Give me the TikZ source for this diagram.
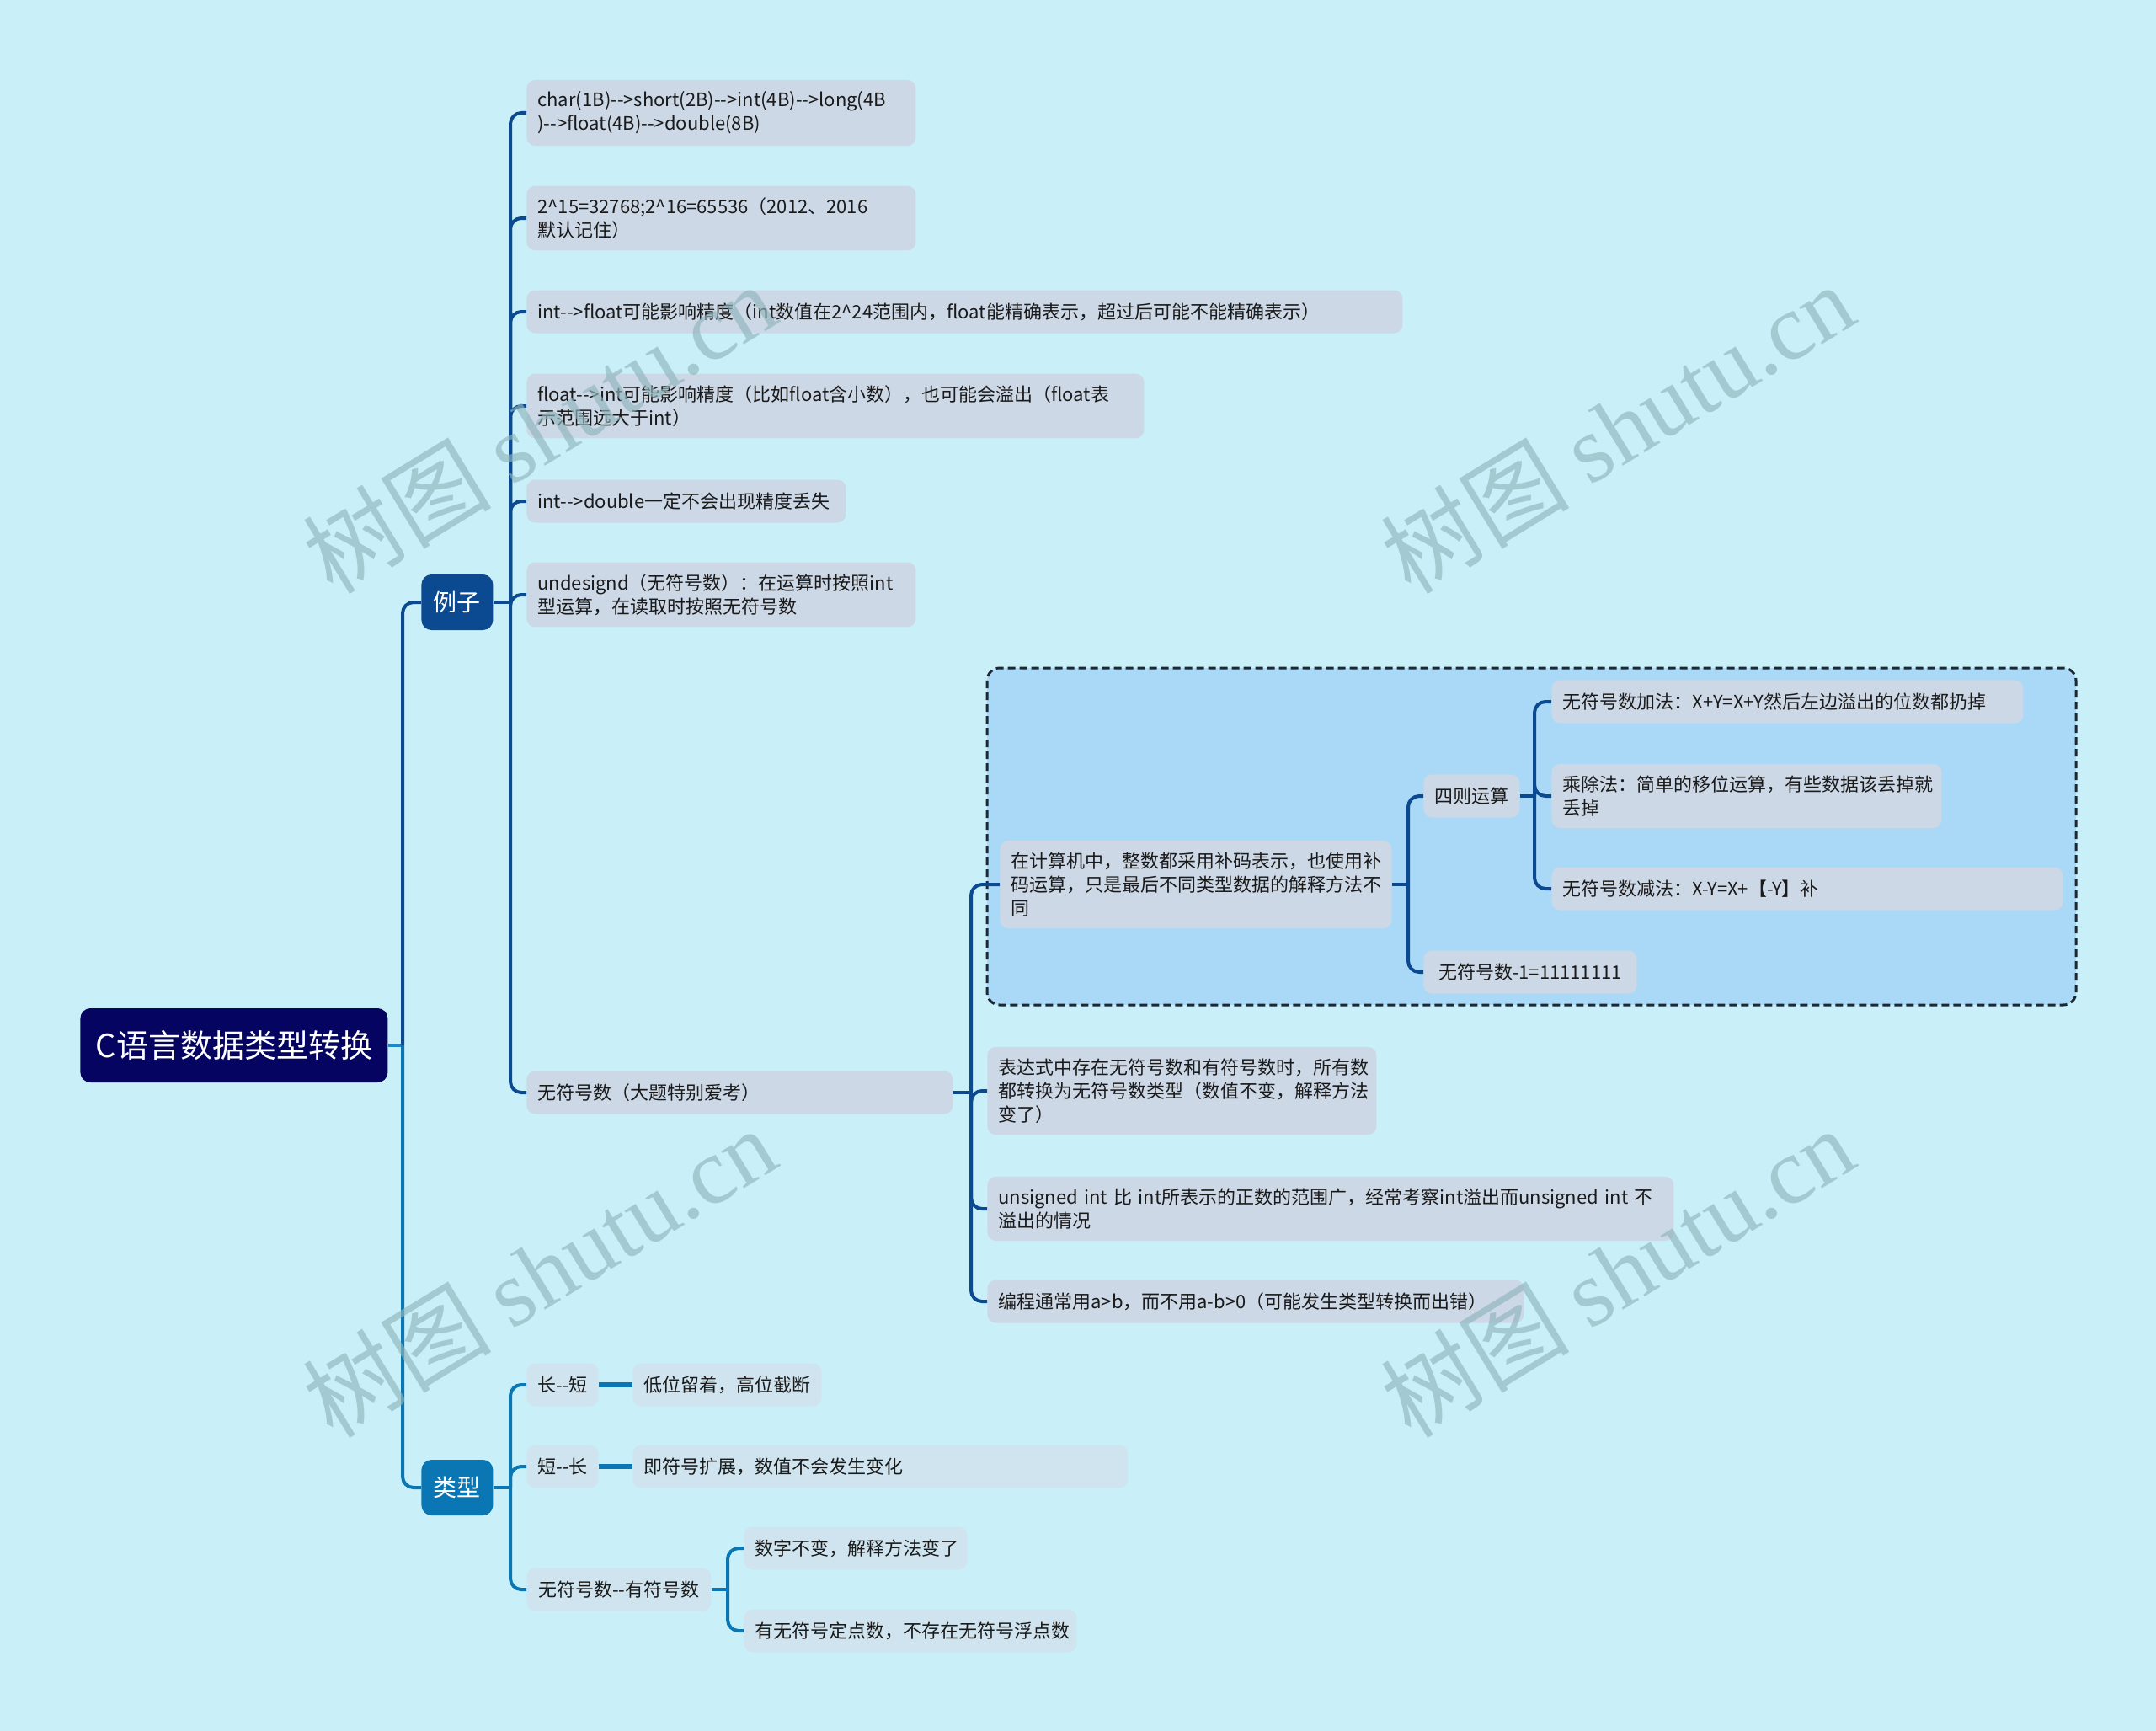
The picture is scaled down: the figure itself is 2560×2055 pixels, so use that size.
\documentclass[tikz,border=0pt]{standalone}
\usepackage{fontspec}
\setmainfont{Noto Sans CJK SC}
\newfontfamily\wmserif{Liberation Serif}
\usepackage{tikz}

\definecolor{bgcyan}{HTML}{C9F0F8}
\definecolor{rootnavy}{HTML}{050561}
\definecolor{lizidark}{HTML}{0B4A91}
\definecolor{leixingteal}{HTML}{0A77B4}
\definecolor{rootstub}{HTML}{1A89C5}
\definecolor{leafgray}{HTML}{CDD8E7}
\definecolor{leafpale}{HTML}{CFE4EF}
\definecolor{groupblue}{HTML}{AAD8F7}
\definecolor{frameink}{HTML}{1E2833}
\definecolor{textink}{HTML}{1A1A1A}
\definecolor{wmgray}{HTML}{8FB6BC}

\begin{document}
\begin{tikzpicture}[
    x=0.5pt, y=-0.5pt,
    rootbox/.style={
        fill=rootnavy,
        text=white,
        rounded corners=6pt,
        anchor=west,
        minimum width=182.5pt,
        minimum height=44pt,
        font=\fontsize{19pt}{22pt}\selectfont
    },
    topicbox/.style={
        text=white,
        rounded corners=6pt,
        anchor=west,
        inner sep=0pt,
        minimum width=42.5pt,
        minimum height=33pt,
        font=\fontsize{14pt}{16pt}\selectfont
    },
    leafbox/.style={
        fill=leafgray,
        text=textink,
        rounded corners=5pt,
        anchor=west,
        align=left,
        inner xsep=6.5pt,
        inner ysep=7pt,
        minimum height=25.5pt,
        font=\fontsize{11pt}{13.9pt}\selectfont
    },
    paleleaf/.style={leafbox, fill=leafpale},
    lizilink/.style={draw=lizidark, line width=2pt, rounded corners=6.5pt},
    leixinglink/.style={draw=leixingteal, line width=2pt, rounded corners=6.5pt},
    groupframe/.style={
        draw=frameink,
        fill=groupblue,
        line width=1.5pt,
        dash pattern=on 4.5pt off 2.5pt,
        rounded corners=7.5pt
    },
    watermark/.style={text=wmgray, opacity=0.65, rotate=31.5, font=\fontsize{56pt}{60pt}\selectfont}
]
    \fill[bgcyan] (0,0) rectangle (2560,2055);
    \useasboundingbox (0,0) rectangle (2560,2055);
    \draw[groupframe] (1172,793) rectangle (2465,1193);

    \node[rootbox] (root) at (95,1241) {C语言数据类型转换};
    \node[topicbox, fill=lizidark] (lizi) at (500,715) {例子};
    \node[topicbox, fill=leixingteal] (leixing) at (500,1766) {类型};

    \node[leafbox, text width=218pt] (chars) at (625,134) {char(1B)-{}->short(2B)-{}->int(4B)-{}->long(4B\\)-{}->float(4B)-{}->double(8B)};
    \node[leafbox, text width=218pt] (powers) at (625,259) {2\textasciicircum 15=32768;2\textasciicircum 16=65536（2012、2016\\默认记住）};
    \node[leafbox, text width=507pt] (inttofloat) at (625,370) {int-{}->float可能影响精度（int数值在2\textasciicircum 24范围内，float能精确表示，超过后可能不能精确表示）};
    \node[leafbox, text width=353.5pt] (floattoint) at (625,482) {float-{}->int可能影响精度（比如float含小数），也可能会溢出（float表\\示范围远大于int）};
    \node[leafbox, text width=176.5pt] (inttodouble) at (625,595) {int-{}->double一定不会出现精度丢失};
    \node[leafbox, text width=218pt] (undesignd) at (625,706) {undesignd（无符号数）：在运算时按照int\\型运算，在读取时按照无符号数};
    \node[leafbox, text width=240pt] (unsig) at (625,1297) {无符号数（大题特别爱考）};

    \node[leafbox, text width=219.5pt] (compl) at (1187,1050) {在计算机中，整数都采用补码表示，也使用补\\码运算，只是最后不同类型数据的解释方法不\\同};
    \node[leafbox, minimum width=56pt] (arith) at (1690,945) {四则运算};
    \node[leafbox, text width=267pt] (addop) at (1842,833) {无符号数加法：X+Y=X+Y然后左边溢出的位数都扔掉};
    \node[leafbox, text width=218.5pt] (muldiv) at (1842,945) {乘除法：简单的移位运算，有些数据该丢掉就\\丢掉};
    \node[leafbox, text width=290.5pt] (subop) at (1842,1055) {无符号数减法：X-Y=X+【-Y】补};
    \node[leafbox, minimum width=126.5pt] (minusone) at (1690,1154) {无符号数-1=11111111};
    \node[leafbox, text width=218pt] (mixed) at (1172,1295) {表达式中存在无符号数和有符号数时，所有数\\都转换为无符号数类型（数值不变，解释方法\\变了）};
    \node[leafbox, text width=394.5pt] (uintrange) at (1172,1435) {unsigned int 比 int所表示的正数的范围广，经常考察int溢出而unsigned int 不\\溢出的情况};
    \node[leafbox, text width=305.5pt] (compare) at (1172,1545) {编程通常用a>b，而不用a-b>0（可能发生类型转换而出错）};

    \node[paleleaf, minimum width=42.5pt] (longshort) at (625,1644) {长-{}-短};
    \node[paleleaf, minimum width=110pt] (truncate) at (751,1644) {低位留着，高位截断};
    \node[paleleaf, minimum width=42.5pt] (shortlong) at (625,1741) {短-{}-长};
    \node[paleleaf, text width=281pt] (extend) at (751,1741) {即符号扩展，数值不会发生变化};
    \node[paleleaf, minimum width=109.5pt] (signswap) at (625,1887) {无符号数-{}-有符号数};
    \node[paleleaf, text width=119.5pt] (samebits) at (883,1838) {数字不变，解释方法变了};
    \node[paleleaf, text width=184.5pt] (nofloat) at (883,1936) {有无符号定点数，不存在无符号浮点数};

    \coordinate (trunk) at (478,1241);
    \coordinate (lizibus) at (606,715);
    \coordinate (unsigbus) at (1153,1297);
    \coordinate (complbus) at (1672,1050);
    \coordinate (arithbus) at (1822,945);
    \coordinate (leixingbus) at (606,1766);
    \coordinate (signbus) at (864,1887);

    \draw[draw=rootstub, line width=2pt] (root) -- (trunk);
    \draw[lizilink] (trunk) |- (lizi.west);
    \draw[leixinglink] (trunk) |- (leixing.west);

    \draw[lizilink] (lizi) -- (lizibus);
    \draw[lizilink] (lizibus) |- (chars.west);
    \draw[lizilink] (lizibus) |- (powers.west);
    \draw[lizilink] (lizibus) |- (inttofloat.west);
    \draw[lizilink] (lizibus) |- (floattoint.west);
    \draw[lizilink] (lizibus) |- (inttodouble.west);
    \draw[lizilink] (lizibus) |- (undesignd.west);
    \draw[lizilink] (lizibus) |- (unsig.west);

    \draw[lizilink] (unsig) -- (unsigbus);
    \draw[lizilink] (unsigbus) |- (compl.west);
    \draw[lizilink] (unsigbus) |- (mixed.west);
    \draw[lizilink] (unsigbus) |- (uintrange.west);
    \draw[lizilink] (unsigbus) |- (compare.west);

    \draw[lizilink] (compl) -- (complbus);
    \draw[lizilink] (complbus) |- (arith.west);
    \draw[lizilink] (complbus) |- (minusone.west);

    \draw[lizilink] (arith) -- (arithbus);
    \draw[lizilink] (arithbus) |- (addop.west);
    \draw[lizilink] (arithbus) |- (muldiv.west);
    \draw[lizilink] (arithbus) |- (subop.west);

    \draw[leixinglink] (leixing) -- (leixingbus);
    \draw[leixinglink] (leixingbus) |- (longshort.west);
    \draw[leixinglink] (leixingbus) |- (shortlong.west);
    \draw[leixinglink] (leixingbus) |- (signswap.west);
    \draw[leixinglink, line width=2.6pt] (longshort) -- (truncate);
    \draw[leixinglink, line width=2.6pt] (shortlong) -- (extend);

    \draw[leixinglink] (signswap) -- (signbus);
    \draw[leixinglink] (signbus) |- (samebits.west);
    \draw[leixinglink] (signbus) |- (nofloat.west);

    \node[watermark] (wma) at (640,508) {树图 {\wmserif shutu.cn}};
    \node[watermark] (wmb) at (1920,508) {树图 {\wmserif shutu.cn}};
    \node[watermark] (wmc) at (640,1510) {树图 {\wmserif shutu.cn}};
    \node[watermark] (wmd) at (1920,1510) {树图 {\wmserif shutu.cn}};
\end{tikzpicture}
\end{document}
